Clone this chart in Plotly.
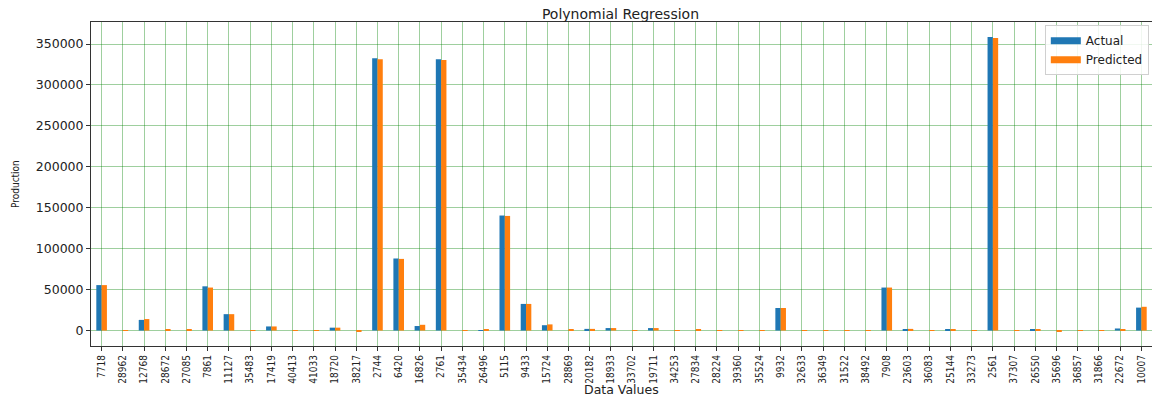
import plotly.graph_objects as go

# Sample identifiers along the x axis
data_values = [
    "7718", "28962", "12768", "28672", "27085", "7861", "11127", "35483", "17419", "40413",
    "41033", "18720", "38217", "2744", "6420", "16826", "2761", "35434", "26496", "5115",
    "9433", "15724", "28869", "20182", "18933", "33702", "19711", "34253", "27834", "28224",
    "39360", "35524", "9932", "32633", "36349", "31522", "38492", "7908", "23603", "36083",
    "25144", "33273", "2561", "37307", "26550", "35696", "36857", "31866", "22672", "10007",
]

actual = [
    55500, 0, 13000, 0, 0, 54000, 20000, 0, 5000, 0,
    0, 3500, 0, 332500, 88000, 5500, 331500, 0, 500, 140500,
    32500, 6500, 0, 2000, 3000, 0, 3000, 0, 0, 0,
    0, 0, 27500, 0, 0, 0, 0, 52500, 1000, 0,
    1000, 0, 358500, 0, 800, 0, 0, 0, 2500, 28000,
]

predicted = [
    55500, 200, 14000, 1000, 1000, 52500, 20000, -500, 5000, 100,
    100, 3500, -1500, 331300, 87500, 7000, 330500, -300, 1000, 140000,
    32500, 7500, 800, 2000, 3000, 600, 3000, 100, 700, -300,
    600, 100, 27500, 100, 100, 100, -400, 52500, 2000, 100,
    1000, 100, 357500, 100, 800, -1200, 100, 600, 1000, 29000,
]

y_ticks = [0, 50000, 100000, 150000, 200000, 250000, 300000, 350000]

series = [("Actual", actual, "#1f77b4"), ("Predicted", predicted, "#ff7f0e")]

fig = go.Figure()
for name, values, color in series:
    fig.add_trace(go.Bar(x=data_values, y=values, name=name, marker_color=color,
                         marker_line_width=0, showlegend=False))
# Legend entries drawn as wide flat patches
for name, values, color in series:
    fig.add_trace(go.Scatter(x=[None], y=[None], mode="lines", name=name,
                             line=dict(color=color, width=7)))

grid_color = "rgba(0,128,0,0.38)"
narrow = "DejaVu Sans Condensed, Liberation Sans Narrow, DejaVu Sans"
fig.update_layout(
    width=1152, height=396,
    margin=dict(l=91, r=0, t=22, b=50),
    paper_bgcolor="white", plot_bgcolor="white",
    barmode="group", bargap=0.5, bargroupgap=0,
    font=dict(family="DejaVu Sans", color="#222", size=11),
    title=dict(text="Polynomial Regression", x=0.5386, xanchor="center", y=0.965,
               yanchor="middle", font=dict(size=14, color="#222")),
    showlegend=True,
    legend=dict(x=0.997, y=0.99, xanchor="right", yanchor="top",
                bgcolor="rgba(255,255,255,0.85)", bordercolor="#d0d0d0", borderwidth=1,
                font=dict(size=12, color="#222"), tracegroupgap=0,
                itemwidth=30),
    xaxis=dict(
        type="category", range=[-0.5, 49.5],
        showgrid=True, gridcolor=grid_color, gridwidth=1,
        showline=True, linecolor="#333", linewidth=1, mirror=True,
        ticks="outside", ticklen=4, tickcolor="#333",
        tickangle=-90,
        tickfont=dict(family=narrow, size=10, color="#222"),
    ),
    yaxis=dict(
        range=[-18900, 376900],
        tickvals=y_ticks, ticktext=[str(v) for v in y_ticks],
        showgrid=True, gridcolor=grid_color, gridwidth=1, zeroline=False,
        showline=True, linecolor="#333", linewidth=1, mirror=True,
        ticks="outside", ticklen=4, tickcolor="#333",
        tickfont=dict(size=12.5, color="#222"),
    ),
    annotations=[
        dict(text="Data Values", xref="paper", yref="paper", x=0.5, y=0,
             yshift=-43, xanchor="center", yanchor="middle", showarrow=False,
             font=dict(size=12.5, color="#222")),
        dict(text="Production", xref="paper", yref="paper", x=0, y=0.5,
             xshift=-76, textangle=-90, xanchor="center", yanchor="middle",
             showarrow=False,
             font=dict(family=narrow, size=10, color="#222")),
    ],
)

fig.write_html("out.html")
